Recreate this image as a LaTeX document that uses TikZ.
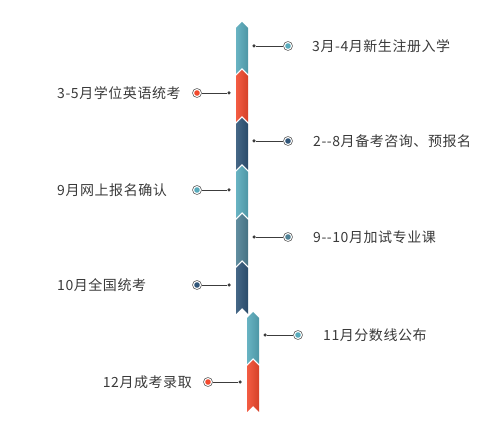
\documentclass[tikz,border=0pt]{standalone}
\usepackage{fontspec}
\newfontfamily\cjk[LetterSpace=4]{Noto Sans CJK SC}
\usepackage{tikz}
\usetikzlibrary{positioning}
\definecolor{segteal}{HTML}{58ABBC}
\definecolor{segred}{HTML}{F24A2E}
\definecolor{segnavy}{HTML}{305679}
\definecolor{segslate}{HTML}{4F8195}
\definecolor{linegray}{HTML}{3C3C3C}
\definecolor{txtgray}{HTML}{3A3A3A}

\begin{document}
\begin{tikzpicture}[line join=bevel,
  seg/.style={left color=#1!90!white,right color=#1!88!black},
  dot/.style={circle,fill=linegray,inner sep=0pt,minimum size=3.5bp},
  ring/.style={circle,draw=linegray,line width=0.5bp,fill=white,inner sep=0pt,minimum size=9bp,
    path picture={\fill[#1] (path picture bounding box.center) circle (2.8bp);}},
  lbl/.style={inner sep=0pt,text=txtgray,font=\cjk\fontsize{14bp}{16bp}\selectfont},
  conn/.style={draw=linegray,line width=0.9bp}]
\useasboundingbox (0bp,0bp) rectangle (491bp,428bp);
%%
\path [seg=segteal]  (236bp,400bp) -- (242bp,406bp) -- (248bp,400bp) -- (248bp,354bp) -- (242bp,360bp) -- (236bp,354bp) -- cycle;
\path [seg=segred]   (236bp,352bp) -- (242bp,358bp) -- (248bp,352bp) -- (248bp,306bp) -- (242bp,312bp) -- (236bp,306bp) -- cycle;
\path [seg=segnavy]  (236bp,304bp) -- (242bp,310bp) -- (248bp,304bp) -- (248bp,258bp) -- (242bp,264bp) -- (236bp,258bp) -- cycle;
\path [seg=segteal]  (236bp,256bp) -- (242bp,262bp) -- (248bp,256bp) -- (248bp,210bp) -- (242bp,216bp) -- (236bp,210bp) -- cycle;
\path [seg=segslate] (236bp,208bp) -- (242bp,214bp) -- (248bp,208bp) -- (248bp,162bp) -- (242bp,168bp) -- (236bp,162bp) -- cycle;
\path [seg=segnavy]  (236bp,160bp) -- (242bp,166bp) -- (248bp,160bp) -- (248bp,114bp) -- (242bp,120bp) -- (236bp,114bp) -- cycle;
\path [seg=segteal]  (247bp,110bp) -- (253bp,116bp) -- (259bp,110bp) -- (259bp,64bp) -- (253bp,70bp) -- (247bp,64bp) -- cycle;
\path [seg=segred]   (247bp,62bp) -- (253bp,68bp) -- (259bp,62bp) -- (259bp,16bp) -- (253bp,22bp) -- (247bp,16bp) -- cycle;
%
  \node (dot1) at (254bp,382bp) [dot] {};
  \node (ring1) at (288bp,382bp) [ring=segteal] {};
  \node (txt1) at (312bp,382bp) [lbl,anchor=west] {3月-4月新生注册入学};
  \node (ring2) at (197bp,335bp) [ring=segred] {};
  \node (dot2) at (229bp,335bp) [dot] {};
  \node (txt2) at (57bp,335bp) [lbl,anchor=west] {3-5月学位英语统考};
  \node (dot3) at (254bp,287bp) [dot] {};
  \node (ring3) at (288bp,287bp) [ring=segnavy] {};
  \node (txt3) at (313bp,287bp) [lbl,anchor=west] {2--8月备考咨询、预报名};
  \node (ring4) at (197bp,238bp) [ring=segteal] {};
  \node (dot4) at (229bp,238bp) [dot] {};
  \node (txt4) at (57bp,238bp) [lbl,anchor=west] {9月网上报名确认};
  \node (dot5) at (254bp,191bp) [dot] {};
  \node (ring5) at (288bp,191bp) [ring=segslate] {};
  \node (txt5) at (313bp,191bp) [lbl,anchor=west] {9--10月加试专业课};
  \node (ring6) at (197bp,143bp) [ring=segnavy] {};
  \node (dot6) at (229bp,143bp) [dot] {};
  \node (txt6) at (57bp,143bp) [lbl,anchor=west] {10月全国统考};
  \node (dot7) at (265bp,93bp) [dot] {};
  \node (ring7) at (298bp,93bp) [ring=segteal] {};
  \node (txt7) at (323bp,93bp) [lbl,anchor=west] {11月分数线公布};
  \node (ring8) at (208bp,46bp) [ring=segred] {};
  \node (dot8) at (240bp,46bp) [dot] {};
  \node (txt8) at (192bp,46bp) [lbl,anchor=east] {12月成考录取};
  \draw [conn] (dot1) -- (ring1);
  \draw [conn] (ring2) -- (dot2);
  \draw [conn] (dot3) -- (ring3);
  \draw [conn] (ring4) -- (dot4);
  \draw [conn] (dot5) -- (ring5);
  \draw [conn] (ring6) -- (dot6);
  \draw [conn] (dot7) -- (ring7);
  \draw [conn] (ring8) -- (dot8);
%
\end{tikzpicture}
\end{document}
